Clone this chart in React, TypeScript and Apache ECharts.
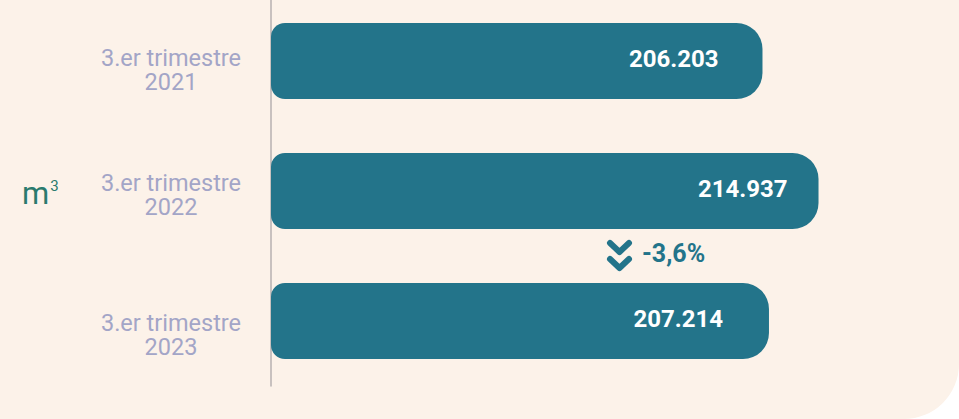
import React, { useEffect, useRef } from "react";
import * as echarts from "echarts";

const quarterLabel = "3.er trimestre";
const years = ["2021", "2022", "2023"];
const categories = years.map((y) => `${quarterLabel}\n${y}`);
const values = [206203, 214937, 207214];
const changeLabel = "-3,6%";
const unitMain = "m";
const unitSup = "3";

const BAR = "#23748a";
const LABEL = "#a3a5c7";
const UNIT = "#2a7a6e";
const labelGap = [18, 8, 28];
const valueLabelDistance = [44, 31, 46];

const fmt = (v: number) => v.toLocaleString("de-DE");

export default function App() {
  const ref = useRef<HTMLDivElement>(null);
  useEffect(() => {
    document.body.style.margin = "0";
    document.body.style.background = "#ffffff";
    const chart = echarts.init(ref.current!, null, { renderer: "svg" });
    const rich: any = {
      t: { color: LABEL, fontFamily: "Roboto", fontSize: 23.5, lineHeight: 24, align: "center" },
    };
    labelGap.forEach((g, i) => {
      rich["g" + i] = { lineHeight: g, fontSize: 1 };
    });
    const dy = 4;
    chart.setOption({
      animation: false,
      grid: { left: 271, right: 108, top: 0, bottom: 33 },
      xAxis: {
        type: "value",
        min: 129600,
        max: 220000,
        show: false,
      },
      yAxis: {
        type: "category",
        inverse: true,
        data: categories,
        axisTick: { show: false },
        axisLine: { show: true, lineStyle: { color: "#b7b1b1", width: 1.5 } },
        axisLabel: {
          align: "center",
          margin: 100,
          formatter: (v: string, i: number) => {
            const [a, b] = v.split("\n");
            return `{g${i}| }\n{t|${a}}\n{t|${b}}`;
          },
          rich,
        },
      },
      series: [
        {
          type: "bar",
          data: values.map((v, i) => ({ value: v, label: { distance: valueLabelDistance[i] } })),
          barWidth: 76,
          itemStyle: { color: BAR, borderRadius: [14, 26, 26, 14] },
          label: {
            show: true,
            position: "insideRight",
            distance: 40,
            offset: [0, -2],
            color: "#ffffff",
            fontFamily: "Roboto",
            fontWeight: "bold",
            fontSize: 24,
            formatter: (p: any) => fmt(p.value),
          },
        },
      ],
      graphic: [
        {
          type: "text",
          left: 22,
          top: 178 + dy,
          style: {
            text: `{m|${unitMain}}{s|${unitSup}}`,
            rich: {
              m: { fontFamily: "Roboto", fontSize: 31, fill: UNIT, verticalAlign: "bottom" },
              s: { fontFamily: "Roboto", fontSize: 15, fill: UNIT, verticalAlign: "top", padding: [0, 0, 14, 1] },
            },
          },
        },
        {
          type: "polyline",
          shape: { points: [[610, 243 + dy], [619.5, 252 + dy], [629, 243 + dy]] },
          style: { stroke: BAR, lineWidth: 6, fill: "none", lineCap: "round", lineJoin: "round" },
        },
        {
          type: "polyline",
          shape: { points: [[610, 259 + dy], [619.5, 268 + dy], [629, 259 + dy]] },
          style: { stroke: BAR, lineWidth: 6, fill: "none", lineCap: "round", lineJoin: "round" },
        },
        {
          type: "text",
          left: 642,
          top: 241 + dy,
          style: {
            text: changeLabel,
            fontFamily: "Roboto",
            fontWeight: "bold",
            fontSize: 25,
            fill: BAR,
          },
        },
      ],
    });
    return () => chart.dispose();
  }, []);
  return (
    <div
      ref={ref}
      style={{
        position: "fixed",
        left: 0,
        top: -4,
        width: 959,
        height: 423,
        background: "#fcf2e9",
        borderBottomRightRadius: 55,
      }}
    />
  );
}
